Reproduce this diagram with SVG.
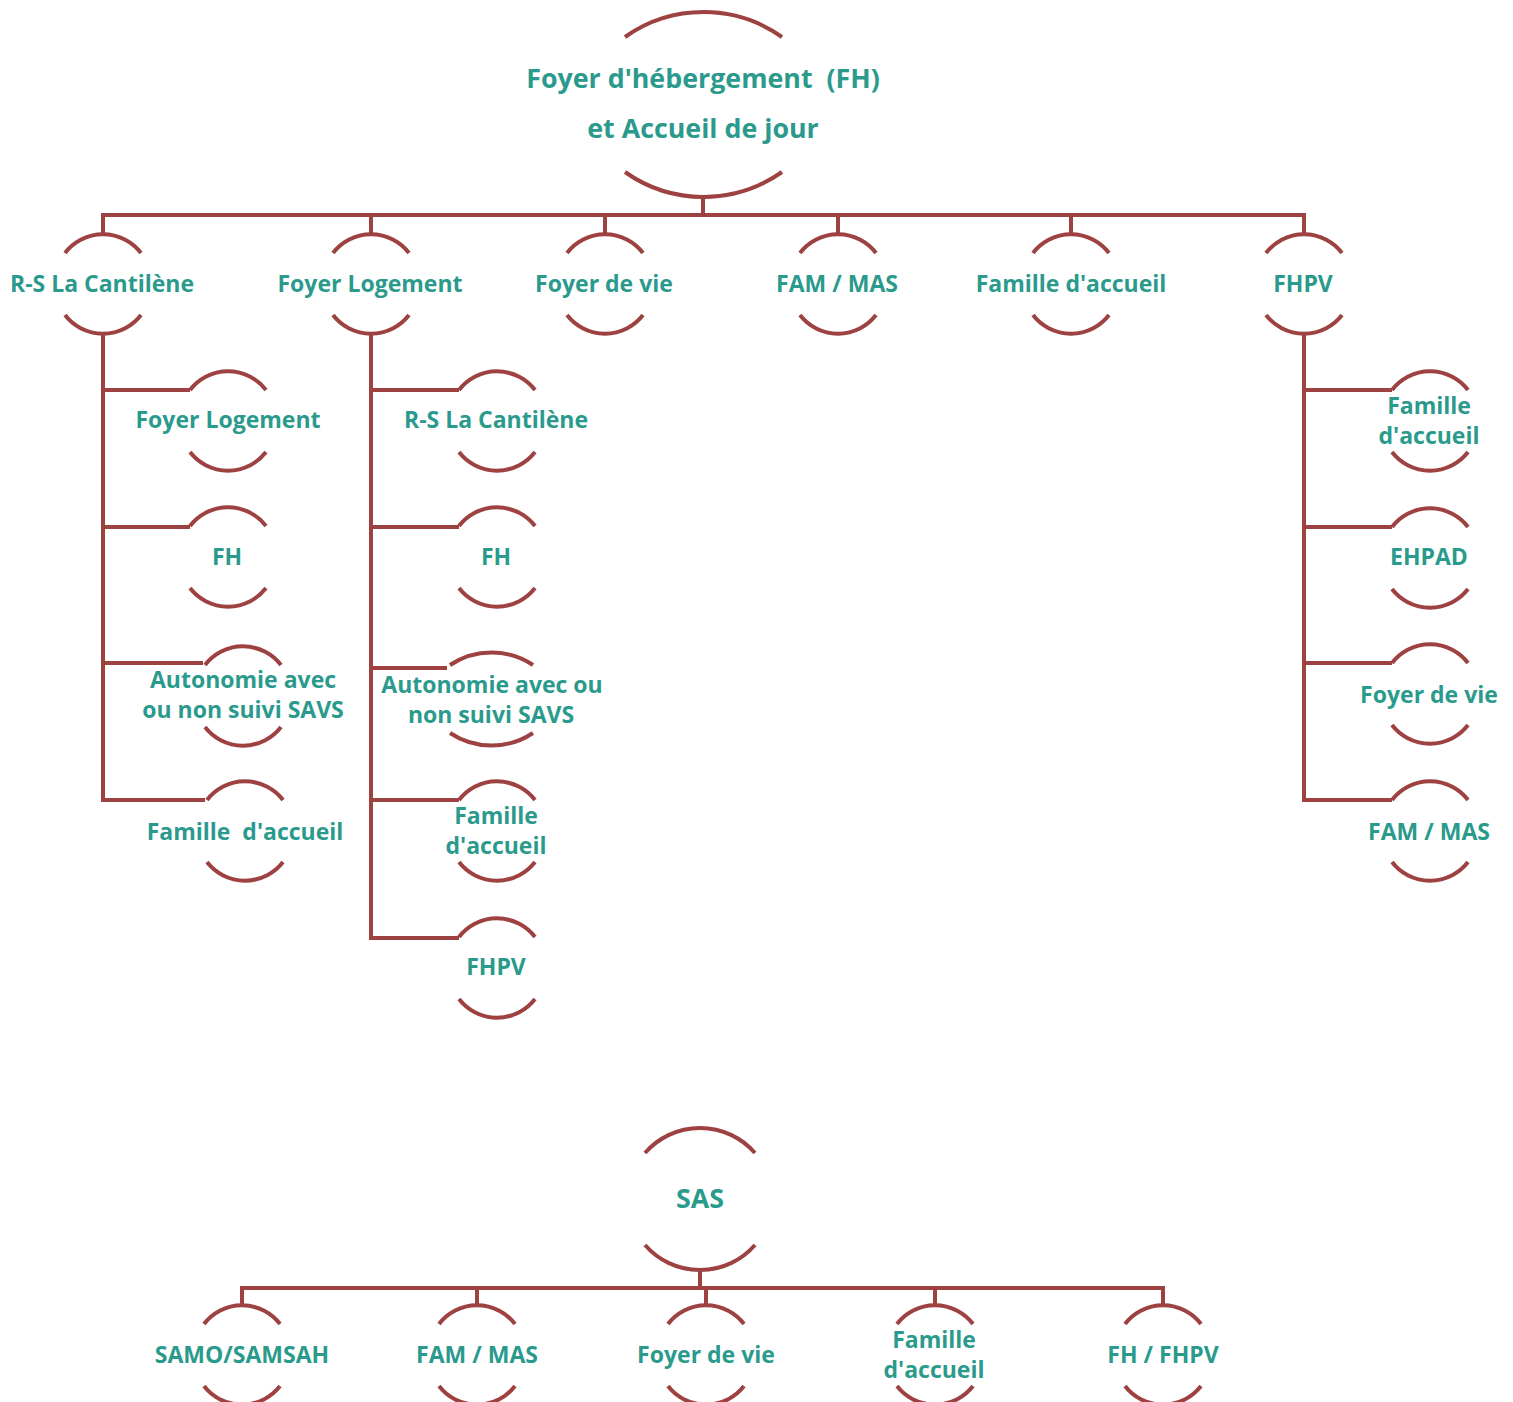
<svg xmlns="http://www.w3.org/2000/svg" width="1513" height="1402" viewBox="0 0 1513 1402">
<style>
.ln{fill:none;stroke:#9E4141;stroke-width:4;stroke-linejoin:miter}
.arc{fill:none;stroke:#9E4141;stroke-width:4}
text{font-family:"Open Sans","Liberation Sans",sans-serif;font-weight:bold;font-size:23px;fill:#2A9A8C;text-anchor:middle;white-space:pre}
.big{font-size:26.8px}
</style>
<defs>
<path id="arc" class="arc" d="M-38,-31 A48,48 0 0 1 38,-31 M-38,31 A48,48 0 0 0 38,31"/>
</defs>
<rect width="1513" height="1402" fill="#fff"/>
<g id="connectors">
<path class="ln" d="M703,195 V215 M103,235 V215 H1304 V235 M371,215 V235 M605,215 V235 M838,215 V235 M1071,215 V235"/>
<path class="ln" d="M103,333 V800 H205 M103,390 H190 M103,527 H190 M103,663 H203"/>
<path class="ln" d="M371,333 V938 H459 M371,390 H459 M371,527 H459 M371,668 H447 M371,800 H459"/>
<path class="ln" d="M1304,333 V800 H1392 M1304,390 H1392 M1304,527 H1392 M1304,663 H1392"/>
<path class="ln" d="M700,1270 V1288 M242,1306 V1288 H1163 V1306 M477,1288 V1306 M706,1288 V1306 M935,1288 V1306"/>
</g>
<g id="n-fh-root">
<path class="arc" d="M625,37 A136,136 0 0 1 782,37 M625,172 A136,136 0 0 0 782,172"/>
<text class="big" x="703" y="88">Foyer d'hébergement  (FH)</text>
<text class="big" x="703" y="138">et Accueil de jour</text>
</g>
<g id="n-rs"><use href="#arc" x="103" y="284"/><text x="102" y="292">R-S La Cantilène</text></g>
<g id="n-fl"><use href="#arc" x="371" y="284"/><text x="370" y="292">Foyer Logement</text></g>
<g id="n-fv"><use href="#arc" x="605" y="284"/><text x="604" y="292">Foyer de vie</text></g>
<g id="n-fam"><use href="#arc" x="838" y="284"/><text x="837" y="292">FAM / MAS</text></g>
<g id="n-fa"><use href="#arc" x="1071" y="284"/><text x="1071" y="292">Famille d'accueil</text></g>
<g id="n-fhpv"><use href="#arc" x="1304" y="284"/><text x="1303" y="292">FHPV</text></g>

<g id="n-rs-fl"><use href="#arc" x="228" y="421"/><text x="228" y="428">Foyer Logement</text></g>
<g id="n-rs-fh"><use href="#arc" x="228" y="557"/><text x="227" y="565">FH</text></g>
<g id="n-rs-auto"><use href="#arc" x="243" y="696"/><text x="243" y="688">Autonomie avec</text><text x="243" y="718">ou non suivi SAVS</text></g>
<g id="n-rs-fa"><use href="#arc" x="245" y="831"/><text x="245" y="840">Famille  d'accueil</text></g>

<g id="n-fl-rs"><use href="#arc" x="497" y="421"/><text x="496" y="428">R-S La Cantilène</text></g>
<g id="n-fl-fh"><use href="#arc" x="497" y="557"/><text x="496" y="565">FH</text></g>
<g id="n-fl-auto">
<path class="arc" d="M450,665 A75,75 0 0 1 533,665 M450,733 A75,75 0 0 0 533,733"/>
<text x="492" y="693">Autonomie avec ou</text><text x="491" y="723">non suivi SAVS</text></g>
<g id="n-fl-fa"><use href="#arc" x="497" y="831"/><text x="496" y="824">Famille</text><text x="496" y="854">d'accueil</text></g>
<g id="n-fl-fhpv"><use href="#arc" x="497" y="968"/><text x="496" y="975">FHPV</text></g>

<g id="n-fhpv-fa"><use href="#arc" x="1430" y="421"/><text x="1429" y="414">Famille</text><text x="1429" y="444">d'accueil</text></g>
<g id="n-fhpv-ehpad"><use href="#arc" x="1430" y="558"/><text x="1429" y="565">EHPAD</text></g>
<g id="n-fhpv-fv"><use href="#arc" x="1430" y="694"/><text x="1429" y="703">Foyer de vie</text></g>
<g id="n-fhpv-fam"><use href="#arc" x="1430" y="831"/><text x="1429" y="840">FAM / MAS</text></g>

<g id="n-sas">
<path class="arc" d="M645,1153 A73,73 0 0 1 755,1153 M645,1245 A73,73 0 0 0 755,1245"/>
<text class="big" x="700" y="1208">SAS</text></g>
<g id="n-sas-samo"><use href="#arc" x="242" y="1355"/><text x="242" y="1363">SAMO/SAMSAH</text></g>
<g id="n-sas-fam"><use href="#arc" x="477" y="1355"/><text x="477" y="1363">FAM / MAS</text></g>
<g id="n-sas-fv"><use href="#arc" x="706" y="1355"/><text x="706" y="1363">Foyer de vie</text></g>
<g id="n-sas-fa"><use href="#arc" x="935" y="1355"/><text x="934" y="1348">Famille</text><text x="934" y="1378">d'accueil</text></g>
<g id="n-sas-fh"><use href="#arc" x="1163" y="1355"/><text x="1163" y="1363">FH / FHPV</text></g>
</svg>
